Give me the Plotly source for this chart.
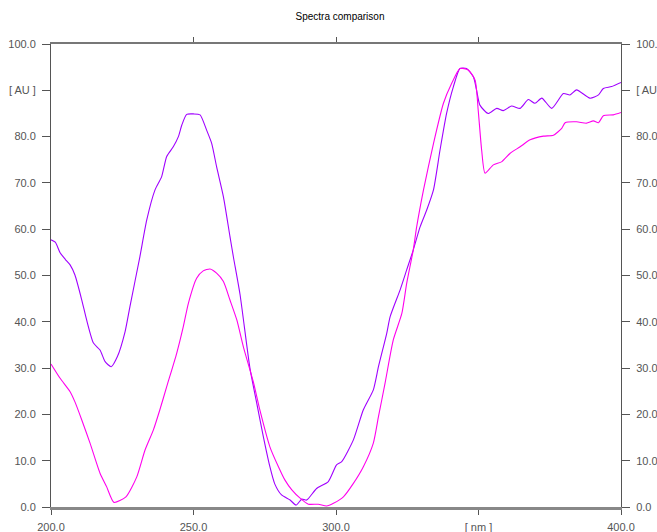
import plotly.graph_objects as go

# Spectrum 1 (purple)
nm_a = [200, 201.5, 203.2, 205, 206.7, 208.4, 210.8, 212.5, 214.9, 217.2,
        219.0, 221.1, 223.3, 226.0, 227.7, 231.2, 233.6, 236.5, 238.8, 240.6,
        242.9, 244.7, 245.9, 247.6, 250.0, 252.3, 254.6, 256.4, 258.1, 260.5,
        262.8, 264.0, 266.3, 269.8, 272.2, 274.5, 276.8, 278.5, 280.9, 283.9,
        286.0, 288.0, 289.7, 293.2, 297.3, 300.2, 302.0, 306.1, 309.6, 313.1,
        314.9, 317.8, 319.0, 322.5, 324.8, 327.1, 329.5, 331.8, 334.2, 336.5,
        338.8, 341.2, 343.5, 345.8, 348.2, 349.3, 350.5, 353.4, 356.4, 358.7,
        361.6, 364.6, 367.5, 369.8, 372.2, 375.7, 379.8, 382.1, 384.4, 389.1,
        392.1, 393.8, 396.7, 400.0]
au_a = [57.7, 57.2, 54.9, 53.5, 52.3, 50.1, 44.7, 40.4, 35.4, 33.9,
        31.4, 30.3, 32.5, 37.9, 43.3, 54.1, 62.0, 68.5, 71.3, 75.7,
        77.8, 80.0, 82.5, 84.8, 84.9, 84.7, 81.4, 78.5, 73.5, 67.0,
        58.4, 54.0, 46.0, 30.0, 22.4, 15.2, 8.7, 5.0, 2.6, 1.5,
        0.4, 1.7, 1.5, 4.0, 5.5, 9.1, 9.8, 14.5, 21.0, 25.3,
        30.3, 37.5, 41.1, 46.9, 51.2, 55.5, 60.5, 64.1, 68.5, 77.1,
        85.0, 90.8, 94.7, 94.7, 92.9, 90.1, 86.8, 85.0, 86.1, 85.6,
        86.6, 86.1, 88.0, 87.2, 88.3, 86.1, 89.3, 89.0, 90.1, 88.3,
        89.0, 90.4, 90.8, 91.7]

# Spectrum 2 (magenta)
nm_b = [200, 203.2, 206.7, 208.4, 210.8, 213.7, 217.2, 219.5, 222.1, 226.3,
        230.1, 233.0, 235.9, 238.2, 240.6, 244.1, 246.4, 248.2, 251.1, 253.4,
        255.8, 258.1, 260.5, 262.8, 265.2, 267.5, 271.0, 273.3, 276.8, 279.8,
        282.1, 284.5, 287.4, 290.3, 293.8, 296.7, 299.1, 302.6, 306.1, 309.6,
        313.1, 314.9, 317.2, 320.1, 323.1, 324.8, 327.1, 328.3, 330.7, 334.2,
        337.7, 340.6, 343.5, 346.4, 348.8, 349.9, 351.1, 352.3, 355.2, 358.2,
        361.1, 364.6, 368.1, 372.8, 376.3, 379.2, 380.4, 384.4, 387.9, 390.3,
        392.1, 393.8, 397.3, 400.0]
au_b = [30.9, 27.8, 24.9, 22.7, 18.8, 13.8, 7.3, 4.4, 1.0, 2.2,
        6.5, 12.3, 16.6, 21.0, 26.0, 33.2, 38.9, 44.0, 49.4, 51.0,
        51.4, 50.5, 48.7, 44.7, 40.4, 34.6, 27.0, 20.9, 13.0, 8.7,
        5.8, 3.7, 1.9, 0.6, 0.6, 0.2, 0.8, 2.2, 5.1, 8.7,
        13.8, 19.5, 26.7, 36.1, 41.8, 48.3, 55.5, 60.5, 68.5, 78.5,
        87.2, 91.5, 94.7, 94.4, 92.2, 85.7, 77.1, 72.1, 73.9, 74.6,
        76.4, 77.8, 79.3, 80.1, 80.3, 81.8, 83.0, 83.2, 82.9, 83.4,
        83.0, 84.5, 84.7, 85.2]

x_ticks = [200, 250, 300, 350, 400]
x_labels = ["200.0", "250.0", "300.0", "[ nm ]", "400.0"]
y_ticks = [0, 10, 20, 30, 40, 50, 60, 70, 80, 90, 100]
y_labels = ["0.0", "10.0", "20.0", "30.0", "40.0", "50.0", "60.0", "70.0",
            "80.0", "[ AU ]", "100.0"]

FONT = "Liberation Sans"
tickfont = dict(family=FONT, size=11, color="#555555")

W, H = 657, 532

fig = go.Figure()
fig.add_trace(go.Scatter(x=nm_a, y=au_a, mode="lines",
                         line=dict(color="#a000ff", width=1.1, shape="spline", smoothing=0.6),
                         showlegend=False))
fig.add_trace(go.Scatter(x=nm_b, y=au_b, mode="lines",
                         line=dict(color="#ff00ee", width=1.1, shape="spline", smoothing=0.6),
                         showlegend=False))
# invisible trace to anchor the mirrored axes
fig.add_trace(go.Scatter(x=[200, 400], y=[0, 100], xaxis="x2", yaxis="y2",
                         mode="markers", marker=dict(opacity=0),
                         hoverinfo="skip", showlegend=False))

fig.update_layout(
    width=W, height=H,
    margin=dict(l=51, r=36, t=44, b=25, autoexpand=False),
    paper_bgcolor="white", plot_bgcolor="white",
    title=dict(text="Spectra comparison", x=340 / W, xref="container",
               y=1 - 16 / H, yref="container", xanchor="center", yanchor="middle",
               automargin=False,
               font=dict(family=FONT, size=10, color="#000000")),
    xaxis=dict(range=[200, 400], tickvals=x_ticks, ticktext=x_labels,
               showline=True, linecolor="#888888", linewidth=3,
               ticks="outside", ticklen=5, tickcolor="#555555", tickwidth=1,
               showgrid=False, zeroline=False, tickfont=tickfont,
               ticklabelstandoff=3, automargin=False),
    xaxis2=dict(range=[200, 400], overlaying="x", side="top", anchor="y",
                tickvals=[250, 300, 350], showticklabels=False,
                showline=True, linecolor="#777777", linewidth=2,
                ticks="outside", ticklen=5, tickcolor="#555555",
                showgrid=False, zeroline=False, automargin=False),
    yaxis=dict(range=[0, 100], tickvals=y_ticks, ticktext=y_labels,
               showline=True, linecolor="#555555", linewidth=1,
               ticks="outside", ticklen=8, tickcolor="#555555",
               showgrid=False, zeroline=False, tickfont=tickfont,
               ticklabelstandoff=4, automargin=False),
    yaxis2=dict(range=[0, 100], overlaying="y", side="right", anchor="x",
                tickvals=y_ticks, ticktext=y_labels,
                showline=True, linecolor="#555555", linewidth=1,
                ticks="outside", ticklen=8, tickcolor="#555555",
                showgrid=False, zeroline=False, tickfont=tickfont,
                ticklabelstandoff=4, automargin=False),
)

# remove the default page margin so the 657x532 figure fills the window exactly
fig.write_html("out.html",
               config={"displayModeBar": False},
               post_script="document.body.style.margin='0';document.body.style.overflow='hidden';")
